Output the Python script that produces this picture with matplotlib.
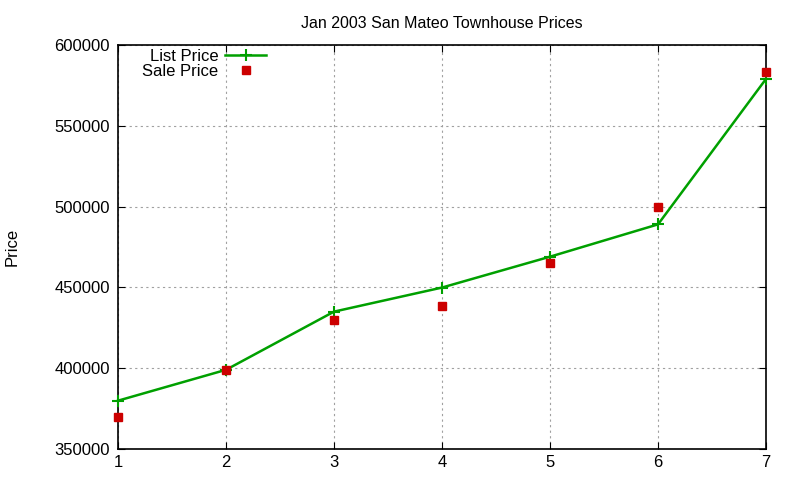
import matplotlib
matplotlib.use("Agg")
import matplotlib.pyplot as plt

plt.rcParams['font.family'] = ['Liberation Sans', 'DejaVu Sans']

# data
houses = [1, 2, 3, 4, 5, 6, 7]
list_price = [379900, 399000, 435000, 449900, 469000, 489000, 579000]
sale_price = [370000, 399000, 430000, 438500, 465000, 500000, 583000]

fig = plt.figure(figsize=(8, 4.8), dpi=100)
ax = fig.add_axes([118 / 800, 1 - 449 / 480, (766 - 118) / 800, (449 - 45) / 480])

ax.plot(houses, list_price, color='#00a000', lw=1.8, marker='+', ms=8, mew=1.5,
        label='List Price', zorder=3, clip_on=False)
ax.plot(houses, sale_price, ls='none', color='#cc0000', marker='s', ms=6,
        label='Sale Price', zorder=4, clip_on=False)

ax.set_xlim(1, 7)
ax.set_ylim(350000, 600000)
ax.set_xticks(houses)
ax.set_yticks(range(350000, 600001, 50000))
ax.ticklabel_format(style='plain', axis='y')
ax.tick_params(direction='in', top=True, right=True, labelsize=12, length=5)
ax.tick_params(axis='y', pad=6)
ax.tick_params(axis='x', pad=4)
ax.grid(True, color='#a0a0a0', ls=(0, (2, 3)), lw=0.8)
for s in ax.spines.values():
    s.set_linewidth(1.2)

ax.set_title('Jan 2003 San Mateo Townhouse Prices', fontsize=11.5, pad=12)
fig.text(12 / 800, 1 - 247 / 480, 'Price', rotation=90, fontsize=12,
         ha='center', va='center')

ax.legend(loc='upper left', bbox_to_anchor=(142 / 800, 1 - 49 / 480),
          bbox_transform=fig.transFigure, markerfirst=False,
          frameon=False, fontsize=12, handlelength=2.5, handletextpad=0.4,
          labelspacing=0.0, borderpad=0, borderaxespad=0)

fig.savefig('out.png', dpi=100)
